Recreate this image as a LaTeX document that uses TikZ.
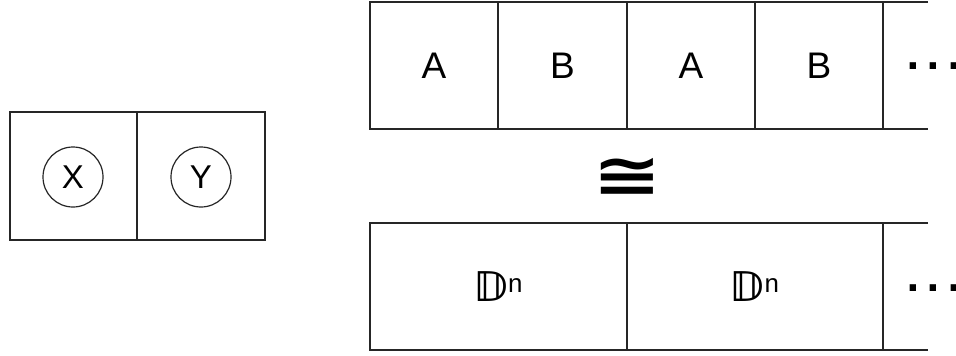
\documentclass[tikz,border=0pt]{standalone}
\usepackage{fontspec}
\usepackage{graphicx}
\setmainfont{Liberation Sans}
\newfontfamily\djv{DejaVu Sans}
\newfontfamily\djvb{DejaVu Sans Bold}
\tikzset{
  frame/.style={draw=black!85, line width=1.6pt},
  lbl/.style={inner sep=0pt, font=\fontsize{37}{40}\selectfont},
  clbl/.style={circle, draw=black!85, line width=1.2pt, minimum size=60pt, inner sep=0pt, font=\fontsize{33}{36}\selectfont},
  dotslbl/.style={inner sep=0pt, anchor=base west, font=\djvb\fontsize{36}{40}\selectfont}
}
\newcommand{\bbD}{{\djvb\fontsize{41}{44}\selectfont 𝔻}}
\begin{document}
\begin{tikzpicture}[x=1pt,y=-1pt]
\useasboundingbox (0,0) rectangle (956,356);
% left pair
\draw[frame] (10,112) rectangle (265,240);
\draw[frame] (137,112) -- (137,240);
\node[clbl] (x) at (73,177) {X};
\node[clbl] (y) at (201,177) {Y};
% top row
\draw[frame] (928,2) -- (370,2) -- (370,129) -- (928,129);
\foreach \xx in {498,627,755,883} \draw[frame] (\xx,2) -- (\xx,129);
\node[lbl] (a1) at (434,65.5) {A};
\node[lbl] (b1) at (562.5,65.5) {B};
\node[lbl] (a2) at (691,65.5) {A};
\node[lbl] (b2) at (819,65.5) {B};
\node[dotslbl] (d1) at (906,69.5) {.\hspace{7pt}.\hspace{7pt}.};
% iso
\node[inner sep=0pt, font=\djvb\fontsize{64}{68}\selectfont] (iso) at (627,177) {\scalebox{1.3}[0.95]{≅}};
% bottom row
\draw[frame] (928,223) -- (370,223) -- (370,350) -- (928,350);
\foreach \xx in {627,883} \draw[frame] (\xx,223) -- (\xx,350);
\node[lbl] (dn1) at (498.5,286.5) {\bbD\textsuperscript{n}};
\node[lbl] (dn2) at (755,286.5) {\bbD\textsuperscript{n}};
\node[dotslbl] (d2) at (906,291) {.\hspace{7pt}.\hspace{7pt}.};
\end{tikzpicture}
\end{document}
